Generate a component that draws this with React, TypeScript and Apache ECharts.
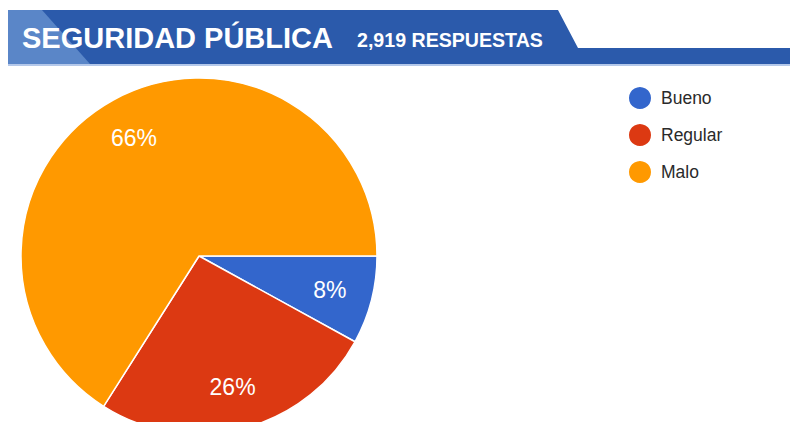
import React, { useEffect, useRef } from "react";
import * as echarts from "echarts";

const categories = ["Bueno", "Regular", "Malo"];
const percentages = [8, 26, 66];
const sliceColors = ["#3366cc", "#dc3912", "#ff9900"];
const titleText = "SEGURIDAD PÚBLICA";
const subtitleText = "2,919 RESPUESTAS";

export default function App() {
  const ref = useRef<HTMLDivElement>(null);
  useEffect(() => {
    if (!ref.current) return;
    const chart = echarts.init(ref.current, undefined, { renderer: "svg" });
    const data = categories.map((name, i) => ({
      name,
      value: percentages[i],
      itemStyle: { color: sliceColors[i] },
    }));
    const labelData = categories.map((name, i) => ({
      name,
      value: percentages[i],
    }));
    chart.setOption({
      animation: false,
      backgroundColor: "#ffffff",
      legend: {
        orient: "vertical",
        left: 622,
        top: 80,
        itemWidth: 24,
        itemHeight: 24,
        itemGap: 11,
        icon: "circle",
        data: categories,
        textStyle: {
          fontFamily: "Liberation Sans",
          fontSize: 17.5,
          color: "#2a2a2a",
          padding: [0, 0, 0, 4],
        },
      },
      series: [
        {
          type: "pie",
          center: [199, 256],
          radius: 178,
          startAngle: 0,
          clockwise: true,
          silent: true,
          label: { show: false },
          labelLine: { show: false },
          itemStyle: { borderColor: "#ffffff", borderWidth: 1.5 },
          data,
        },
        {
          type: "pie",
          center: [199, 256],
          radius: [86, 178],
          startAngle: 0,
          clockwise: true,
          silent: true,
          itemStyle: { color: "rgba(0,0,0,0)" },
          label: {
            show: true,
            position: "inside",
            formatter: "{c}%",
            color: "#ffffff",
            fontFamily: "Liberation Sans",
            fontSize: 23,
          },
          labelLine: { show: false },
          data: labelData,
        },
      ],
      graphic: [
        {
          type: "polygon",
          shape: {
            points: [
              [8, 10],
              [558, 10],
              [578, 48],
              [790, 48],
              [790, 64],
              [8, 64],
            ],
          },
          style: { fill: "#2b5aab" },
        },
        {
          type: "polygon",
          shape: {
            points: [
              [8, 10],
              [42, 10],
              [90, 64],
              [8, 64],
            ],
          },
          style: { fill: "#5a86c8" },
        },
        {
          type: "rect",
          shape: { x: 8, y: 64, width: 782, height: 2 },
          style: { fill: "#b4c8ea" },
        },
        {
          type: "text",
          x: 22,
          y: 38,
          style: {
            text: titleText,
            fill: "#ffffff",
            font: "bold 29px 'Liberation Sans'",
            verticalAlign: "middle",
          },
        },
        {
          type: "text",
          x: 357,
          y: 40,
          style: {
            text: subtitleText,
            fill: "#ffffff",
            font: "bold 19.6px 'Liberation Sans'",
            verticalAlign: "middle",
          },
        },
      ],
    });
    return () => chart.dispose();
  }, []);
  return (
    <div
      ref={ref}
      style={{ position: "fixed", left: 0, top: 0, width: 790, height: 422 }}
    />
  );
}
